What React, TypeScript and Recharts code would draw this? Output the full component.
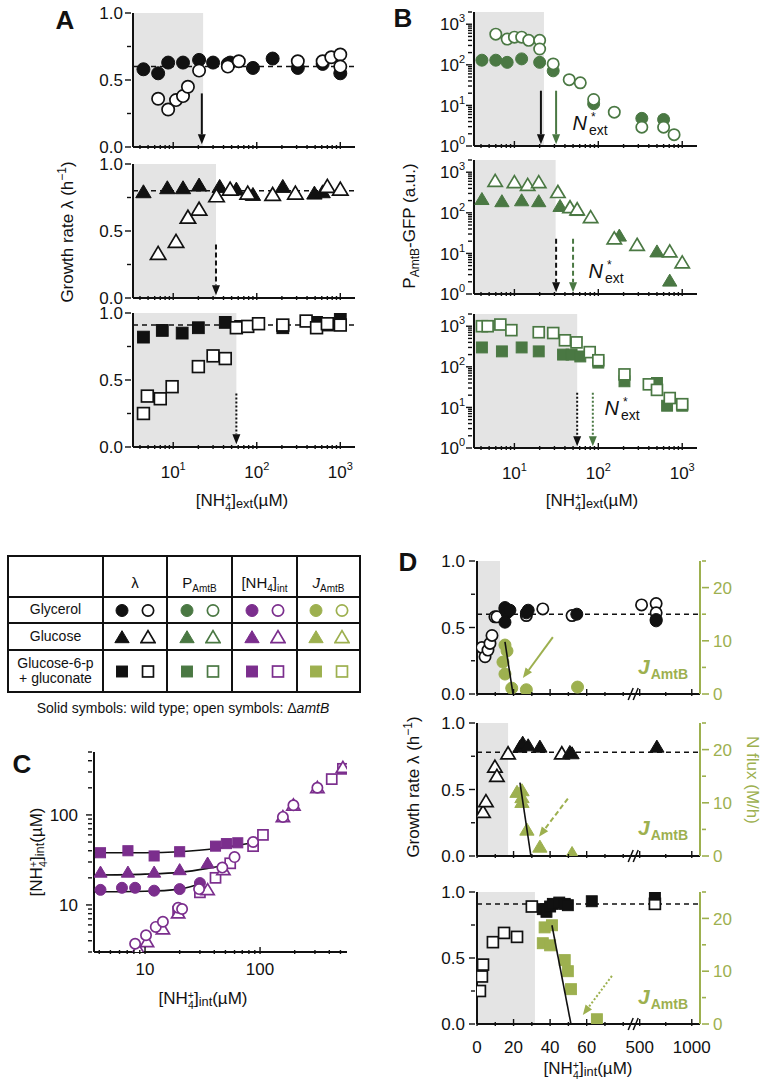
import type { ReactNode } from "react";
import {
  ScatterChart,
  Scatter,
  XAxis,
  YAxis,
  ReferenceArea,
  ReferenceLine,
  ReferenceDot,
} from "recharts";

const FONT = '"Liberation Sans", Arial, Helvetica, sans-serif';
const INK = "#111111";
const GREEN = "#4a7843";
const PURPLE = "#7b2e8d";
const OLIVE = "#9db04f";
const SHADE = "#e4e4e4";

type Pt = [number, number];
type Kind = "c" | "t" | "s";

// ---- A: growth rate vs external ammonium (µM, h^-1) ----
const aGlyWt: Pt[] = [[4.4, 0.58], [6.6, 0.55], [8.7, 0.63], [13.1, 0.63], [20.4, 0.65], [30, 0.63], [45, 0.62], [48, 0.63], [90, 0.59], [155, 0.66], [310, 0.59], [615, 0.62], [1000, 0.55]];
const aGlyMut: Pt[] = [[6.6, 0.36], [8.7, 0.28], [10.8, 0.35], [13.1, 0.38], [15, 0.45], [20.4, 0.57], [45, 0.6], [61, 0.64], [310, 0.64], [615, 0.64], [780, 0.67], [1000, 0.69], [1000, 0.6]];
const aGluWt: Pt[] = [[4.4, 0.79], [8.5, 0.82], [13.1, 0.82], [20.4, 0.84], [36, 0.83], [57, 0.81], [90, 0.77], [205, 0.83], [490, 0.78], [615, 0.79]];
const aGluMut: Pt[] = [[6.6, 0.33], [10.8, 0.42], [15, 0.6], [20.4, 0.66], [33, 0.76], [48, 0.81], [78, 0.78], [155, 0.77], [290, 0.78], [700, 0.83], [1000, 0.81]];
const aG6pWt: Pt[] = [[4.4, 0.82], [7.4, 0.87], [12.8, 0.85], [20, 0.89], [42, 0.93], [64, 0.9], [205, 0.89], [520, 0.93], [700, 0.91], [1000, 0.97]];
const aG6pMut: Pt[] = [[4.4, 0.25], [4.9, 0.38], [7, 0.36], [9.7, 0.45], [20, 0.6], [30, 0.68], [42, 0.66], [57, 0.89], [78, 0.9], [105, 0.92], [205, 0.91], [390, 0.94], [520, 0.89], [700, 0.92], [1000, 0.91]];

// ---- B: PAmtB-GFP (a.u.) ----
const bGlyWt: Pt[] = [[4.1, 130], [6, 130], [8.2, 115], [12.2, 140], [20, 115], [29, 71], [88, 11], [330, 4.8], [600, 4.5]];
const bGlyMut: Pt[] = [[6, 570], [8.2, 430], [10, 480], [12.2, 480], [14.8, 400], [20, 400], [20, 245], [29, 105], [45, 43], [61, 36], [88, 14], [155, 6.8], [330, 2.9], [600, 2.9], [800, 1.9]];
const bGluWt: Pt[] = [[4.1, 215], [7.1, 190], [12.2, 200], [19.5, 190], [35, 145], [56, 115], [178, 27], [500, 11], [710, 2.1]];
const bGluMut: Pt[] = [[5.9, 600], [10, 560], [14.4, 480], [19.5, 560], [33, 320], [46, 135], [56, 120], [81, 77], [155, 23], [290, 16], [710, 11], [1000, 5.9]];
const bG6pWt: Pt[] = [[4.1, 300], [7.1, 240], [12.2, 300], [19.5, 240], [38, 200], [48, 200], [61, 180], [100, 127], [205, 44], [500, 40], [660, 11], [1000, 11]];
const bG6pMut: Pt[] = [[4.1, 1000], [4.8, 1000], [6.8, 1100], [9.2, 800], [19.5, 710], [29, 680], [40, 450], [55, 400], [79, 230], [100, 145], [205, 65], [400, 37], [500, 27], [710, 17], [1000, 12]];

// ---- C: internal vs external ammonium ----
const cGlyWt: Pt[] = [[4.1, 14.7], [6.3, 15.5], [8.2, 15.5], [12, 14.4], [20, 15], [30, 17.5]];
const cGluWt: Pt[] = [[4.1, 23], [7.1, 23], [12, 23], [20, 24.5], [35, 29]];
const cG6pWt: Pt[] = [[4.1, 38], [7.1, 40], [12, 35], [20, 39], [41, 45], [51, 48], [64, 49]];
const cGlyMut: Pt[] = [[8.2, 3.7], [10.2, 4.6], [12.4, 5.7], [14.3, 6.5], [19.4, 9.3], [21, 9], [29.5, 15], [47, 26], [60, 34], [87, 50], [158, 95], [195, 128], [315, 200]];
const cGluMut: Pt[] = [[8.7, 3.2], [10.4, 3.9], [14.3, 5.4], [19.4, 8.1], [35, 14.7], [48, 24.5], [158, 95], [195, 128], [315, 200], [525, 335]];
const cG6pMut: Pt[] = [[19.4, 8.4], [30, 13.8], [41, 20], [55, 29], [87, 45], [106, 60], [420, 250], [525, 325]];
const cGlyFit: Pt[] = [[3.6, 14], [10, 14.2], [20, 15], [32, 17.6]];
const cGluFit: Pt[] = [[3.6, 21.5], [10, 22], [20, 23], [35, 25.5], [51, 28]];
const cG6pFit: Pt[] = [[3.6, 38], [10, 38], [20, 39], [40, 42], [60, 45.5], [87, 49]];

// ---- D: growth rate and flux vs internal ammonium ----
const d1Mut: Pt[] = [[2.7, 0.35], [4.4, 0.28], [6, 0.33], [7.1, 0.38], [8.2, 0.44], [9.8, 0.58], [10.9, 0.58], [15.3, 0.64], [27, 0.59], [36, 0.64], [52, 0.59], [518, 0.67], [658, 0.68], [658, 0.61]];
const d1Wt: Pt[] = [[15.3, 0.65], [16.4, 0.61], [15.3, 0.54], [18, 0.63], [27, 0.61], [28, 0.63], [54.6, 0.6], [658, 0.56], [658, 0.55]];
const d1Flux: Pt[] = [[15.3, 9.2], [16.4, 8.1], [14.2, 6], [15.3, 3.75], [19, 1.1], [27, 0.8], [55, 1.3]];
const d1Fit: Pt[] = [[15.3, 9.8], [19.7, 0]];
const d2Wt: Pt[] = [[23.5, 0.82], [25, 0.85], [28, 0.83], [34.4, 0.82], [50.8, 0.78], [52, 0.77], [665, 0.82]];
const d2Mut: Pt[] = [[3.3, 0.33], [4.9, 0.41], [9.8, 0.67], [10.9, 0.6], [17, 0.77], [46.4, 0.77]];
const d2Flux: Pt[] = [[21.9, 12], [24.6, 12.3], [24.6, 11], [24.6, 10.1], [27.3, 4.9], [34.4, 1.7], [52, 0.5]];
const d2Fit: Pt[] = [[23.5, 13.8], [29.5, 0]];
const d3Mut: Pt[] = [[1.6, 0.25], [2.7, 0.36], [3.3, 0.45], [8.7, 0.62], [14.8, 0.69], [21.9, 0.66], [30, 0.89], [646, 0.91]];
const d3Wt: Pt[] = [[36, 0.87], [38, 0.85], [40, 0.89], [41.5, 0.91], [45, 0.92], [48, 0.91], [49.7, 0.9], [62.8, 0.93], [646, 0.98]];
const d3Flux: Pt[] = [[37, 18.3], [41, 18.7], [36, 15.3], [40, 14.9], [48, 12.1], [49.7, 10], [51.4, 6.6], [65.6, 0.9]];
const d3Fit: Pt[] = [[41, 18.7], [51.4, 0]];

// ---- ticks ----
const extTicks = [4, 5, 6, 7, 8, 9, 10, 20, 30, 40, 50, 60, 70, 80, 90, 100, 200, 300, 400, 500, 600, 700, 800, 900, 1000];
const extExp: [number, string][] = [[10, "1"], [100, "2"], [1000, "3"]];
const gfpTicks = [1, 2, 3, 4, 5, 6, 7, 8, 9, 10, 20, 30, 40, 50, 60, 70, 80, 90, 100, 200, 300, 400, 500, 600, 700, 800, 900, 1000, 2000];
const gfpExp: [number, string][] = [[1, "0"], [10, "1"], [100, "2"], [1000, "3"]];
const growthTicks = [0, 0.25, 0.5, 0.75, 1];
const growthLabels: [number, string][] = [[0, "0.0"], [0.5, "0.5"], [1, "1.0"]];
const cXTicks = [4, 5, 6, 7, 8, 9, 10, 20, 30, 40, 50, 60, 70, 80, 90, 100, 200, 300, 400, 500];
const cYTicks = [3, 4, 5, 6, 7, 8, 9, 10, 20, 30, 40, 50, 60, 70, 80, 90, 100, 200, 300, 400, 500];
const cLabels: [number, string][] = [[10, "10"], [100, "100"]];
const fluxTicks = [0, 5, 10, 15, 20, 25];
const fluxLabels: [number, string][] = [[0, "0"], [10, "10"], [20, "20"]];
const intTicks = [0, 10, 20, 30, 40, 50, 60, 70, 80, 500, 750, 1000];
const intLabels: [number, string][] = [[0, "0"], [20, "20"], [40, "40"], [60, "60"], [500, "500"], [1000, "1000"]];

const sources = ["Glycerol", "Glucose", "Glucose-6-p\n+ gluconate"];

// broken axis of panel D: 0..86 linear, then 500..1000 compressed
const brk = (v: number) => (v <= 86 ? v : 89 + ((v - 500) * 28.5) / 500);

const pts = (a: Pt[]) => a.map(([x, y]) => ({ x, y }));
const dpts = (a: Pt[]) => a.map(([x, y]) => ({ x: brk(x), y }));
const pow = (e: string) => (
  <>
    10<tspan dy={-8} fontSize={11}>{e}</tspan>
  </>
);
const toMap = (a: [number, string][], f: (s: string) => ReactNode = (s) => s, k: (v: number) => number = (v) => v) =>
  new Map<number, ReactNode>(a.map(([v, s]) => [k(v), f(s)]));
const EMPTY = new Map<number, ReactNode>();

const mark = (kind: Kind, color: string, open: boolean, d: number) => (p: any) => {
  const { cx, cy } = p;
  if (cx == null || cy == null) return <g />;
  const fill = open ? "#fff" : color;
  const sw = open ? 1.7 : 1;
  if (kind === "c") return <circle cx={cx} cy={cy} r={d / 2 - sw / 2} fill={fill} stroke={color} strokeWidth={sw} />;
  if (kind === "s") {
    const h = d * 0.42;
    return <rect x={cx - h} y={cy - h} width={2 * h} height={2 * h} fill={fill} stroke={color} strokeWidth={sw} />;
  }
  const h = d * 0.5;
  return (
    <polygon
      points={`${cx},${cy - h * 1.05} ${cx + h * 1.1},${cy + h * 0.8} ${cx - h * 1.1},${cy + h * 0.8}`}
      fill={fill}
      stroke={color}
      strokeWidth={sw}
    />
  );
};
const noDot = () => <g />;

const arrow = (color: string, dash?: string) => (p: any) => {
  const { x1, y1, x2, y2 } = p;
  const a = Math.atan2(y2 - y1, x2 - x1);
  const L = 10;
  const W = 4;
  const bx = x2 - L * Math.cos(a);
  const by = y2 - L * Math.sin(a);
  const px = -Math.sin(a) * W;
  const py = Math.cos(a) * W;
  return (
    <g>
      <line x1={x1} y1={y1} x2={bx} y2={by} stroke={color} strokeWidth={2} strokeDasharray={dash} />
      <polygon points={`${x2},${y2} ${bx + px},${by + py} ${bx - px},${by - py}`} fill={color} />
    </g>
  );
};

type TickCfg = { labels: Map<number, ReactNode>; major: number[]; color?: string; gap?: number; base?: number };

const bottomTick = (cfg: TickCfg) => (p: any) => {
  const v = p.payload.value as number;
  const lab = cfg.labels.get(v);
  return (
    <g>
      <line x1={p.x} x2={p.x} y1={p.y} y2={p.y - (cfg.major.includes(v) ? 7 : 4)} stroke={INK} strokeWidth={1.4} />
      {lab !== undefined && (
        <text x={p.x} y={p.y + (cfg.base ?? 27)} textAnchor="middle" fontSize={17} fontFamily={FONT} fill={INK}>
          {lab}
        </text>
      )}
    </g>
  );
};

const leftTick = (cfg: TickCfg) => (p: any) => {
  const v = p.payload.value as number;
  const lab = cfg.labels.get(v);
  const c = cfg.color ?? INK;
  return (
    <g>
      <line x1={p.x} x2={p.x - (cfg.major.includes(v) ? 6 : 4)} y1={p.y} y2={p.y} stroke={c} strokeWidth={1.4} />
      {lab !== undefined && (
        <text x={p.x - (cfg.gap ?? 9)} y={p.y} dy="0.36em" textAnchor="end" fontSize={17} fontFamily={FONT} fill={c}>
          {lab}
        </text>
      )}
    </g>
  );
};

const rightTick = (cfg: TickCfg) => (p: any) => {
  const v = p.payload.value as number;
  const lab = cfg.labels.get(v);
  const c = cfg.color ?? INK;
  return (
    <g>
      <line x1={p.x} x2={p.x + (cfg.major.includes(v) ? 7 : 4)} y1={p.y} y2={p.y} stroke={c} strokeWidth={1.6} />
      {lab !== undefined && (
        <text x={p.x + (cfg.gap ?? 10)} y={p.y} dy="0.36em" textAnchor="start" fontSize={17} fontFamily={FONT} fill={c}>
          {lab}
        </text>
      )}
    </g>
  );
};

const AX = { stroke: INK, strokeWidth: 2 };
const MT = 14;
const MR = 6;

function Frame(props: { l: number; t: number; w: number; h: number; lw: number; rw?: number; bh: number; children: ReactNode }) {
  const { l, t, w, h, lw, rw = 0, bh, children } = props;
  return (
    <div style={{ position: "absolute", left: l - lw, top: t - MT }}>
      <ScatterChart width={lw + w + rw + MR} height={MT + h + bh} margin={{ top: MT, right: MR, bottom: 0, left: 0 }}>
        {children}
      </ScatterChart>
    </div>
  );
}

function GrowthPanel(props: { t: number; wt: Pt[]; mut: Pt[]; kind: Kind; shade: number; level: number; arrowX: number; dash?: string; labels: boolean }) {
  const { t, wt, mut, kind, shade, level, arrowX, dash, labels } = props;
  const bh = labels ? 35 : 12;
  return (
    <Frame l={133} t={t} w={222} h={134} lw={45} bh={bh}>
      <ReferenceArea x1={3.3} x2={shade} y1={0} y2={1} fill={SHADE} fillOpacity={1} stroke="none" />
      <XAxis type="number" dataKey="x" scale="log" domain={[3.3, 1500]} allowDataOverflow ticks={extTicks} interval={0}
        tick={bottomTick({ labels: labels ? toMap(extExp, pow) : EMPTY, major: [10, 100, 1000], base: 29 })}
        tickLine={false} tickSize={0} axisLine={AX} height={bh} />
      <YAxis type="number" dataKey="y" domain={[0, 1]} allowDataOverflow ticks={growthTicks} interval={0}
        tick={leftTick({ labels: toMap(growthLabels), major: [0, 0.5, 1], gap: 8 })}
        tickLine={false} tickSize={0} axisLine={AX} width={45} />
      <ReferenceLine y={level} stroke={INK} strokeWidth={1.5} strokeDasharray="5 4" />
      <ReferenceLine segment={[{ x: arrowX, y: 0.4 }, { x: arrowX, y: 0.02 }]} shape={arrow(INK, dash)} />
      <Scatter data={pts(wt)} shape={mark(kind, INK, false, 14)} isAnimationActive={false} />
      <Scatter data={pts(mut)} shape={mark(kind, INK, true, 14)} isAnimationActive={false} />
    </Frame>
  );
}

function GfpPanel(props: { t: number; wt: Pt[]; mut: Pt[]; kind: Kind; shade: number; blackX: number; greenX: number; dash?: string; labels: boolean }) {
  const { t, wt, mut, kind, shade, blackX, greenX, dash, labels } = props;
  const bh = labels ? 35 : 12;
  return (
    <Frame l={474} t={t} w={223} h={134} lw={50} bh={bh}>
      <ReferenceArea x1={3.3} x2={shade} y1={1} y2={2000} fill={SHADE} fillOpacity={1} stroke="none" />
      <XAxis type="number" dataKey="x" scale="log" domain={[3.3, 1500]} allowDataOverflow ticks={extTicks} interval={0}
        tick={bottomTick({ labels: labels ? toMap(extExp, pow) : EMPTY, major: [10, 100, 1000], base: 29 })}
        tickLine={false} tickSize={0} axisLine={AX} height={bh} />
      <YAxis type="number" dataKey="y" scale="log" domain={[1, 2000]} allowDataOverflow ticks={gfpTicks} interval={0}
        tick={leftTick({ labels: toMap(gfpExp, pow), major: [1, 10, 100, 1000], gap: 7 })}
        tickLine={false} tickSize={0} axisLine={AX} width={50} />
      <ReferenceLine segment={[{ x: blackX, y: 23 }, { x: blackX, y: 1.1 }]} shape={arrow(INK, dash)} />
      <ReferenceLine segment={[{ x: greenX, y: 23 }, { x: greenX, y: 1.1 }]} shape={arrow(GREEN, dash)} />
      <Scatter data={pts(wt)} shape={mark(kind, GREEN, false, 13)} isAnimationActive={false} />
      <Scatter data={pts(mut)} shape={mark(kind, GREEN, true, 13)} isAnimationActive={false} />
    </Frame>
  );
}

function IntPanel() {
  const tk = { labels: toMap(cLabels), major: [10, 100] };
  return (
    <Frame l={94} t={752} w={253} h={200} lw={50} bh={35}>
      <XAxis type="number" dataKey="x" scale="log" domain={[3.6, 570]} allowDataOverflow ticks={cXTicks} interval={0}
        tick={bottomTick({ ...tk, base: 21 })} tickLine={false} tickSize={0} axisLine={AX} height={35} />
      <YAxis type="number" dataKey="y" scale="log" domain={[3, 500]} allowDataOverflow ticks={cYTicks} interval={0}
        tick={leftTick({ ...tk, gap: 14 })} tickLine={false} tickSize={0} axisLine={AX} width={50} />
      <Scatter data={pts(cGlyFit)} shape={noDot} line={{ stroke: INK, strokeWidth: 1.6 }} lineJointType="monotoneX" isAnimationActive={false} />
      <Scatter data={pts(cGluFit)} shape={noDot} line={{ stroke: INK, strokeWidth: 1.6 }} lineJointType="monotoneX" isAnimationActive={false} />
      <Scatter data={pts(cG6pFit)} shape={noDot} line={{ stroke: INK, strokeWidth: 1.6 }} lineJointType="monotoneX" isAnimationActive={false} />
      <Scatter data={pts(cGlyWt)} shape={mark("c", PURPLE, false, 12)} isAnimationActive={false} />
      <Scatter data={pts(cGluWt)} shape={mark("t", PURPLE, false, 12)} isAnimationActive={false} />
      <Scatter data={pts(cG6pWt)} shape={mark("s", PURPLE, false, 12)} isAnimationActive={false} />
      <Scatter data={pts(cG6pMut)} shape={mark("s", PURPLE, true, 12)} isAnimationActive={false} />
      <Scatter data={pts(cGluMut)} shape={mark("t", PURPLE, true, 12)} isAnimationActive={false} />
      <Scatter data={pts(cGlyMut)} shape={mark("c", PURPLE, true, 12)} isAnimationActive={false} />
    </Frame>
  );
}

const breakMark = (p: any) => (
  <g>
    <line x1={p.cx - 6} y1={p.cy + 6} x2={p.cx - 1} y2={p.cy - 6} stroke={INK} strokeWidth={1.5} />
    <line x1={p.cx - 1} y1={p.cy + 6} x2={p.cx + 4} y2={p.cy - 6} stroke={INK} strokeWidth={1.5} />
  </g>
);

function FluxPanel(props: {
  t: number; h: number; wt: Pt[]; mut: Pt[]; flux: Pt[]; fit: Pt[]; kind: Kind; shade: number; level: number;
  arr: [number, number, number, number]; dash?: string; labels: boolean;
}) {
  const { t, h, wt, mut, flux, fit, kind, shade, level, arr, dash, labels } = props;
  const bh = labels ? 32 : 12;
  return (
    <Frame l={477} t={t} w={223} h={h} lw={45} rw={40} bh={bh}>
      <ReferenceArea x1={0} x2={shade} y1={0} y2={1} fill={SHADE} fillOpacity={1} stroke="none" />
      <XAxis type="number" dataKey="x" domain={[0, 122]} allowDataOverflow ticks={intTicks.map(brk)} interval={0}
        tick={bottomTick({ labels: labels ? toMap(intLabels, (s) => s, brk) : EMPTY, major: [0, 20, 40, 60, brk(500), brk(1000)], base: 27 })}
        tickLine={false} tickSize={0} axisLine={AX} height={bh} />
      <YAxis type="number" dataKey="y" domain={[0, 1]} allowDataOverflow ticks={growthTicks} interval={0}
        tick={leftTick({ labels: toMap(growthLabels), major: [0, 0.5, 1], gap: 10 })}
        tickLine={false} tickSize={0} axisLine={AX} width={45} />
      <YAxis yAxisId="r" orientation="right" type="number" dataKey="y" domain={[0, 25]} allowDataOverflow ticks={fluxTicks} interval={0}
        tick={rightTick({ labels: toMap(fluxLabels), major: [0, 10, 20], color: OLIVE, gap: 11 })}
        tickLine={false} tickSize={0} axisLine={{ stroke: OLIVE, strokeWidth: 2 }} width={40} />
      <ReferenceLine y={level} stroke={INK} strokeWidth={1.5} strokeDasharray="5 4" />
      <ReferenceDot x={86} y={0} r={0} ifOverflow="visible" shape={breakMark} />
      <Scatter data={dpts(mut)} shape={mark(kind, INK, true, 13)} isAnimationActive={false} />
      <Scatter data={dpts(wt)} shape={mark(kind, INK, false, 13)} isAnimationActive={false} />
      <Scatter yAxisId="r" data={dpts(flux)} shape={mark(kind, OLIVE, false, 13)} isAnimationActive={false} />
      <Scatter yAxisId="r" data={dpts(fit)} shape={noDot} line={{ stroke: INK, strokeWidth: 1.6 }} isAnimationActive={false} />
      <ReferenceLine yAxisId="r" segment={[{ x: arr[0], y: arr[1] }, { x: arr[2], y: arr[3] }]} shape={arrow(OLIVE, dash)} />
    </Frame>
  );
}

function NH4({ sub }: { sub: string }) {
  return (
    <span style={{ display: "inline-flex", alignItems: "center" }}>
      <span>[NH</span>
      <span style={{ display: "inline-flex", flexDirection: "column", alignItems: "center", fontSize: "0.62em", lineHeight: 0.95, marginTop: 4 }}>
        <span>+</span>
        <span>4</span>
      </span>
      <span>]</span>
      <span style={{ fontSize: "0.75em", marginTop: 9 }}>{sub}</span>
      <span>(µM)</span>
    </span>
  );
}

function At(props: { x: number; y: number; rot?: number; color?: string; size?: number; weight?: number; children: ReactNode }) {
  const { x, y, rot = 0, color = INK, size = 17, weight = 400, children } = props;
  return (
    <div
      style={{
        position: "absolute",
        left: x,
        top: y,
        transform: `translate(-50%, -50%) rotate(${rot}deg)`,
        whiteSpace: "nowrap",
        fontSize: size,
        fontWeight: weight,
        color,
        lineHeight: 1,
      }}
    >
      {children}
    </div>
  );
}

const Nstar = () => (
  <span style={{ display: "inline-flex", alignItems: "flex-start" }}>
    <i style={{ fontSize: 20, lineHeight: 1, marginTop: 2 }}>N</i>
    <span style={{ display: "inline-flex", flexDirection: "column", lineHeight: 1, marginLeft: 4 }}>
      <span style={{ fontSize: 12 }}>*</span>
      <span style={{ fontSize: 14, marginLeft: -2 }}>ext</span>
    </span>
  </span>
);
const Jamt = () => (
  <span style={{ display: "inline-flex", alignItems: "flex-end", color: OLIVE, fontWeight: 700 }}>
    <i style={{ fontSize: 21 }}>J</i>
    <span style={{ fontSize: 14, marginBottom: -4, marginLeft: 1 }}>AmtB</span>
  </span>
);
const Growth = () => (
  <span style={{ display: "inline-flex", alignItems: "flex-start" }}>
    <span>Growth rate λ (h</span>
    <span style={{ fontSize: 12, marginTop: -3 }}>−1</span>
    <span>)</span>
  </span>
);

function Sym({ kind, color, open }: { kind: Kind; color: string; open: boolean }) {
  return (
    <svg width={16} height={16} style={{ display: "block" }}>
      {mark(kind, color, open, 13)({ cx: 8, cy: 8.5 })}
    </svg>
  );
}

function Legend() {
  const cols = [INK, GREEN, PURPLE, OLIVE];
  const kinds: Kind[] = ["c", "t", "s"];
  const colW = [95, 64, 65, 65, 61];
  const rowH = [41, 26, 27, 40];
  const cell = (r: number, c: number, content: ReactNode, align = "center") => (
    <div
      key={`${r}-${c}`}
      style={{
        boxSizing: "border-box",
        borderRight: c < 4 ? "2px solid #111" : "none",
        borderBottom: r < 3 ? "2px solid #111" : "none",
        display: "flex",
        alignItems: align,
        justifyContent: "center",
        textAlign: "center",
        fontSize: 14,
        lineHeight: 1.1,
        paddingBottom: align === "flex-end" ? 5 : 0,
        whiteSpace: "pre-line",
      }}
    >
      {content}
    </div>
  );
  const sm = { fontSize: 10, lineHeight: 0 };
  const head: ReactNode[] = [
    "",
    <span style={{ fontSize: 15 }}>λ</span>,
    <span style={{ fontSize: 15 }}>P<sub style={sm}>AmtB</sub></span>,
    <span style={{ fontSize: 15 }}>[NH<sub style={sm}>4</sub>]<sub style={sm}>int</sub></span>,
    <span style={{ fontSize: 15 }}><i>J</i><sub style={sm}>AmtB</sub></span>,
  ];
  return (
    <>
      <div
        style={{
          position: "absolute",
          left: 7,
          top: 555,
          width: 354,
          boxSizing: "border-box",
          border: "2px solid #111",
          display: "grid",
          gridTemplateColumns: colW.map((w) => `${w}px`).join(" "),
          gridTemplateRows: rowH.map((h) => `${h}px`).join(" "),
        }}
      >
        {head.map((h, c) => cell(0, c, h, "flex-end"))}
        {sources.map((s, i) => [
          cell(i + 1, 0, s),
          ...cols.map((col, j) =>
            cell(
              i + 1,
              j + 1,
              <div style={{ display: "flex", gap: 10 }}>
                <Sym kind={kinds[i]} color={col} open={false} />
                <Sym kind={kinds[i]} color={col} open={true} />
              </div>
            )
          ),
        ])}
      </div>
      <At x={183} y={708} size={14}>
        Solid symbols: wild type; open symbols: Δ<i>amtB</i>
      </At>
    </>
  );
}

export default function App() {
  return (
    <div
      style={{
        position: "absolute",
        left: 0,
        top: 0,
        width: 766,
        height: 1092,
        background: "#fff",
        fontFamily: FONT,
        color: INK,
        overflow: "hidden",
      }}
    >
      <GrowthPanel t={13} wt={aGlyWt} mut={aGlyMut} kind="c" shade={22.8} level={0.6} arrowX={22} labels={false} />
      <GrowthPanel t={164} wt={aGluWt} mut={aGluMut} kind="t" shade={32.5} level={0.8} arrowX={32.5} dash="5 3" labels={false} />
      <GrowthPanel t={313} wt={aG6pWt} mut={aG6pMut} kind="s" shade={57} level={0.91} arrowX={57} dash="2 2" labels={true} />

      <GfpPanel t={12} wt={bGlyWt} mut={bGlyMut} kind="c" shade={22.5} blackX={20.7} greenX={31.4} labels={false} />
      <GfpPanel t={160} wt={bGluWt} mut={bGluMut} kind="t" shade={31} blackX={31.4} greenX={50} dash="5 3" labels={false} />
      <GfpPanel t={314} wt={bG6pWt} mut={bG6pMut} kind="s" shade={56} blackX={56} greenX={86} dash="2 2" labels={true} />

      <IntPanel />

      <FluxPanel t={561} h={133} wt={d1Wt} mut={d1Mut} flux={d1Flux} fit={d1Fit} kind="c" shade={12.6} level={0.6}
        arr={[41.5, 10.7, 25.1, 3.0]} labels={false} />
      <FluxPanel t={723} h={133} wt={d2Wt} mut={d2Mut} flux={d2Flux} fit={d2Fit} kind="t" shade={17} level={0.78}
        arr={[49.7, 10.8, 33.9, 3.6]} dash="5 3" labels={false} />
      <FluxPanel t={892} h={132} wt={d3Wt} mut={d3Mut} flux={d3Flux} fit={d3Fit} kind="s" shade={31.7} level={0.91}
        arr={[73.8, 9.1, 57.9, 1.7]} dash="2 2" labels={true} />

      <Legend />

      {/* panel letters */}
      <At x={65} y={20} size={26} weight={700}>A</At>
      <At x={403} y={18} size={26} weight={700}>B</At>
      <At x={22} y={764} size={26} weight={700}>C</At>
      <At x={408} y={562} size={26} weight={700}>D</At>

      {/* axis titles */}
      <At x={67} y={232} rot={-90}><Growth /></At>
      <At x={242} y={500}><NH4 sub="ext" /></At>
      <At x={409} y={226} rot={-90}>
        <span style={{ display: "inline-flex", alignItems: "flex-end" }}>
          <span>P</span>
          <span style={{ fontSize: 12, marginBottom: -3 }}>AmtB</span>
          <span>-GFP (a.u.)</span>
        </span>
      </At>
      <At x={592} y={500}><NH4 sub="ext" /></At>
      <At x={36} y={852} rot={-90}><NH4 sub="int" /></At>
      <At x={203} y={998}><NH4 sub="int" /></At>
      <At x={413} y={787} rot={-90}><Growth /></At>
      <At x={752} y={780} rot={90} color={OLIVE}>N flux (M/h)</At>
      <At x={588} y={1068}><NH4 sub="int" /></At>

      {/* N*ext annotations */}
      <At x={590} y={124}><Nstar /></At>
      <At x={606} y={272}><Nstar /></At>
      <At x={622} y={409}><Nstar /></At>

      {/* J_AmtB annotations */}
      <At x={663} y={666}><Jamt /></At>
      <At x={663} y={827}><Jamt /></At>
      <At x={663} y={996}><Jamt /></At>
    </div>
  );
}
